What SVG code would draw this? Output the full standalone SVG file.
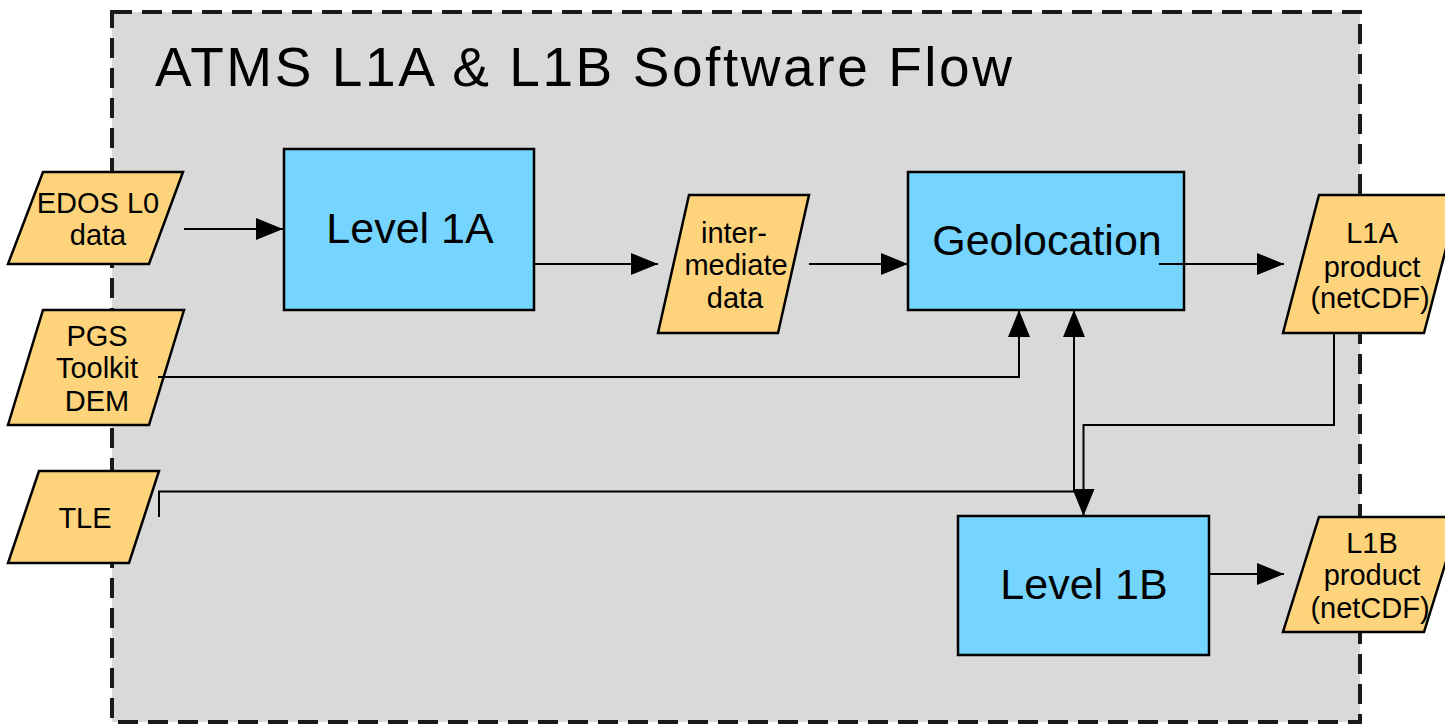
<svg xmlns="http://www.w3.org/2000/svg" width="1445" height="725" viewBox="0 0 1445 725">
<defs>
<style>
.frame{fill:#d9d9d9;stroke:#1a1a1a;stroke-width:4;stroke-dasharray:20 10}
.box{fill:#75d5ff;stroke:#000;stroke-width:2.5}
.io{fill:#fdd47b;stroke:#000;stroke-width:2.5;stroke-linejoin:miter}
.t{font-family:"Liberation Sans",Arial,sans-serif;fill:#000;text-anchor:middle}
.s{font-size:29px}
.b{font-size:43px}
.c{fill:none;stroke:#000;stroke-width:2}
</style>
<marker id="ah" markerUnits="userSpaceOnUse" markerWidth="27" markerHeight="22" refX="27" refY="11" orient="auto">
<path d="M0,0 L27,11 L0,22 z" fill="#000"/>
</marker>
</defs>
<rect width="1445" height="725" fill="#fff"/>
<rect class="frame" x="112" y="12" width="1248" height="710"/>
<text class="t" x="155" y="86" style="text-anchor:start;font-size:55px" textLength="857" lengthAdjust="spacing">ATMS L1A &amp; L1B Software Flow</text>

<g id="level1a">
<rect class="box" x="284" y="149" width="250" height="161"/>
<text class="t b" x="410" y="243">Level 1A</text>
</g>
<g id="geolocation">
<rect class="box" x="908" y="172" width="276" height="138"/>
<text class="t b" x="1047" y="255">Geolocation</text>
</g>
<g id="level1b">
<rect class="box" x="958" y="516" width="251" height="139"/>
<text class="t b" x="1084" y="599">Level 1B</text>
</g>

<g id="edos">
<polygon class="io" points="43,172 183,172 149,264 8,264"/>
<text class="t s" x="98" y="213">EDOS L0</text>
<text class="t s" x="98" y="245">data</text>
</g>
<g id="pgs">
<polygon class="io" points="43,310 184,310 149,425 8,425"/>
<text class="t s" x="97" y="346">PGS</text>
<text class="t s" x="97" y="378">Toolkit</text>
<text class="t s" x="97" y="411">DEM</text>
</g>
<g id="tle">
<polygon class="io" points="39,471 159,471 129,563 8,563"/>
<text class="t s" x="85" y="528">TLE</text>
</g>
<g id="intermediate">
<polygon class="io" points="689,195 809,195 778,333 658,333"/>
<text class="t s" x="734" y="243">inter-</text>
<text class="t s" x="736" y="275">mediate</text>
<text class="t s" x="735" y="308">data</text>
</g>
<g id="l1a-product">
<polygon class="io" points="1319,195 1460,195 1424,333 1283,333"/>
<text class="t s" x="1372" y="243">L1A</text>
<text class="t s" x="1372" y="277">product</text>
<text class="t s" x="1370" y="308">(netCDF)</text>
</g>
<g id="l1b-product">
<polygon class="io" points="1319,517 1460,517 1424,632 1283,632"/>
<text class="t s" x="1372" y="553">L1B</text>
<text class="t s" x="1372" y="585">product</text>
<text class="t s" x="1370" y="618">(netCDF)</text>
</g>

<g id="connectors">
<line class="c" x1="184" y1="229" x2="283" y2="229" marker-end="url(#ah)"/>
<line class="c" x1="534" y1="264" x2="658" y2="264" marker-end="url(#ah)"/>
<line class="c" x1="809" y1="264" x2="908" y2="264" marker-end="url(#ah)"/>
<line class="c" x1="1159" y1="264" x2="1284" y2="264" marker-end="url(#ah)"/>
<polyline class="c" points="158,377 1019,377 1019,310" marker-end="url(#ah)"/>
<polyline class="c" points="159,517 159,491.5 1074,491.5 1074,310" marker-end="url(#ah)"/>
<polyline class="c" points="1334,333 1334,425 1083.5,425 1083.5,516" marker-end="url(#ah)"/>
<line class="c" x1="1209" y1="574" x2="1284" y2="574" marker-end="url(#ah)"/>
</g>
</svg>
